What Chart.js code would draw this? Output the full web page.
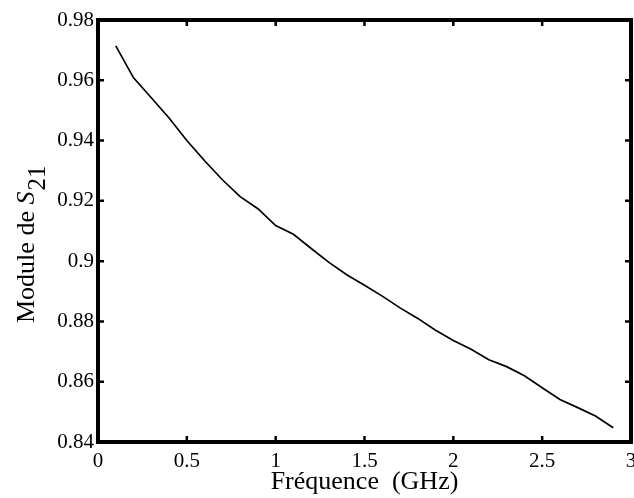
<!DOCTYPE html>
<html>
<head>
<meta charset="utf-8">
<script src="https://cdn.jsdelivr.net/npm/chart.js@4"></script>
<style>
  html, body { margin: 0; padding: 0; background: #fff; }
  #wrap { width: 634px; height: 498px; }
</style>
</head>
<body>
<div id="wrap"><canvas id="myChart" width="634" height="498"></canvas></div>
<script>
// fréquence (GHz) et module de S21
let freq = [0.1, 0.2, 0.3, 0.4, 0.5, 0.6, 0.7, 0.8, 0.9, 1.0,
            1.1, 1.2, 1.3, 1.4, 1.5, 1.6, 1.7, 1.8, 1.9, 2.0,
            2.1, 2.2, 2.3, 2.4, 2.5, 2.6, 2.7, 2.8, 2.9];
let s21 = [0.9714, 0.9608, 0.9542, 0.9475, 0.9400, 0.9333, 0.9270, 0.9214, 0.9174, 0.9118,
           0.9089, 0.9042, 0.8996, 0.8955, 0.8920, 0.8884, 0.8845, 0.8810, 0.8771, 0.8737,
           0.8708, 0.8673, 0.8650, 0.8620, 0.8580, 0.8541, 0.8514, 0.8486, 0.8447];

// graduations
let xTicks = [0, 0.5, 1, 1.5, 2, 2.5, 3];
let yTicks = [0.84, 0.86, 0.88, 0.9, 0.92, 0.94, 0.96, 0.98];

let points = freq.map((f, i) => ({x: f, y: s21[i]}));

let serif = "'Liberation Serif', 'Times New Roman', serif";

// cadre et petites graduations vers l'intérieur, sur les quatre côtés
let cadre = {
    id: 'cadre',
    afterDraw(chart) {
        let c = chart.ctx, a = chart.chartArea;
        let sx = chart.scales.x, sy = chart.scales.y;
        c.save();
        c.strokeStyle = '#000';
        c.lineWidth = 2.5;
        c.beginPath();
        sx.ticks.forEach(t => {
            let px = sx.getPixelForValue(t.value);
            c.moveTo(px, a.bottom); c.lineTo(px, a.bottom - 6);
            c.moveTo(px, a.top); c.lineTo(px, a.top + 6);
        });
        sy.ticks.forEach(t => {
            let py = sy.getPixelForValue(t.value);
            c.moveTo(a.left, py); c.lineTo(a.left + 6, py);
            c.moveTo(a.right, py); c.lineTo(a.right - 6, py);
        });
        c.stroke();
        c.lineWidth = 4;
        c.strokeRect(a.left, a.top, a.right - a.left, a.bottom - a.top);
        c.restore();
    }
};

// titre vertical : Module de S21 (S en italique, 21 en indice)
let titreY = {
    id: 'titreY',
    afterDraw(chart) {
        let c = chart.ctx;
        c.save();
        c.fillStyle = '#000';
        c.translate(34, 323);
        c.rotate(-Math.PI / 2);
        c.textBaseline = 'alphabetic';
        c.font = '26px ' + serif;
        let t1 = 'Module de ';
        c.fillText(t1, 0, 0);
        let x = c.measureText(t1).width;
        c.font = 'italic 26px ' + serif;
        c.fillText('S', x, 0);
        x += c.measureText('S').width + 1;
        c.font = '25px ' + serif;
        c.fillText('21', x, 11);
        c.restore();
    }
};

let ctx = document.getElementById('myChart').getContext('2d');
let chart = new Chart(ctx, {
    type: 'line',
    data: {
        datasets: [{
            data: points,
            borderColor: '#000',
            backgroundColor: 'transparent',
            borderWidth: 1.7,
            pointRadius: 0,
            tension: 0
        }]
    },
    options: {
        responsive: false,
        animation: false,
        layout: { padding: { top: 20, right: 3, left: 0, bottom: 0 } },
        plugins: {
            legend: { display: false },
            tooltip: { enabled: false }
        },
        scales: {
            x: {
                type: 'linear',
                min: 0,
                max: 3,
                afterBuildTicks: s => { s.ticks = xTicks.map(v => ({value: v})); },
                afterFit: s => { s.height = 56; s.paddingLeft = 0; s.paddingRight = 0; },
                grid: { display: false, drawTicks: false },
                border: { display: false },
                ticks: {
                    color: '#000',
                    padding: 7,
                    maxRotation: 0,
                    autoSkip: false,
                    font: { family: serif, size: 21 },
                    callback: v => String(v)
                },
                title: {
                    display: true,
                    text: 'Fréquence  (GHz)',
                    color: '#000',
                    padding: { top: 0, bottom: 0 },
                    font: { family: serif, size: 26 }
                }
            },
            y: {
                type: 'linear',
                min: 0.84,
                max: 0.98,
                afterBuildTicks: s => { s.ticks = yTicks.map(v => ({value: v})); },
                afterFit: s => { s.width = 98; s.paddingTop = 0; s.paddingBottom = 0; },
                grid: { display: false, drawTicks: false },
                border: { display: false },
                ticks: {
                    color: '#000',
                    padding: 4,
                    autoSkip: false,
                    font: { family: serif, size: 21 },
                    callback: v => String(parseFloat(v.toFixed(2)))
                }
            }
        }
    },
    plugins: [cadre, titreY]
});
</script>
</body>
</html>
